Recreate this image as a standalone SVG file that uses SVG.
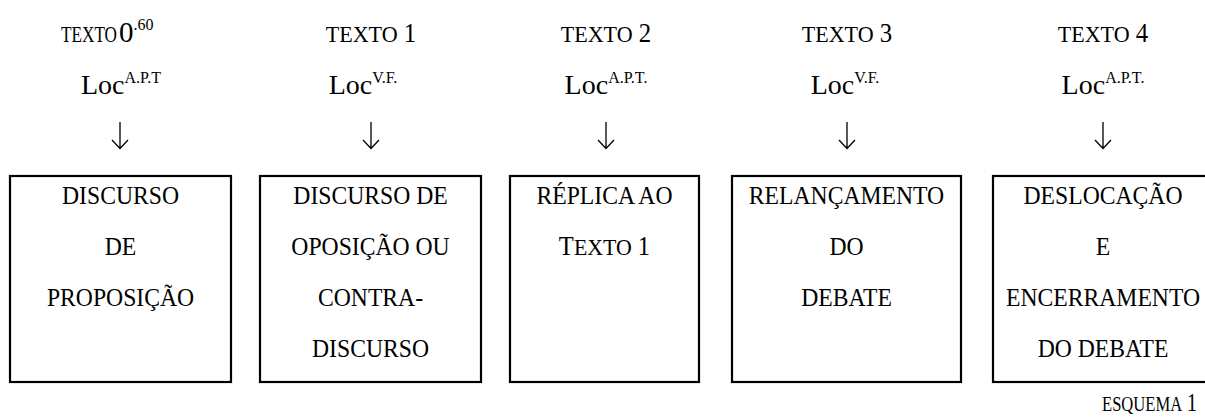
<svg xmlns="http://www.w3.org/2000/svg" width="1205" height="417" viewBox="0 0 1205 417">
<style>
text{font-family:"Liberation Serif","Times New Roman",serif;fill:#000;text-anchor:middle}
.st{text-anchor:start}
.sc{font-size:24px}
.big{font-size:27px}
.loc{font-size:28px}
.sup{font-size:16px}
.bt{font-size:26px}
.box{fill:#fff;stroke:#000;stroke-width:2.2}
.arr{fill:none;stroke:#000;stroke-width:1.3}
</style>
<rect width="1205" height="417" fill="#fff"/>
<g id="connectors">
<path class="arr" d="M120,122V148.5M112,140L120,148.5L128,140"/>
<path class="arr" d="M371,122V148.5M363,140L371,148.5L379,140"/>
<path class="arr" d="M606,122V148.5M598,140L606,148.5L614,140"/>
<path class="arr" d="M847,122V148.5M839,140L847,148.5L855,140"/>
<path class="arr" d="M1103,122V148.5M1095,140L1103,148.5L1111,140"/>
</g>
<g id="texto0">
<text class="st" x="61" y="42"><tspan class="sc" textLength="56" lengthAdjust="spacingAndGlyphs">TEXTO</tspan><tspan class="big" x="119" style="font-size:29px">0</tspan><tspan class="sup" dy="-12">.60</tspan></text>
<text x="121" y="94"><tspan class="loc">Loc</tspan><tspan class="sup" dy="-11">A.P.T</tspan></text>
<rect class="box" x="10" y="176" width="221" height="206"/>
<text class="bt" transform="translate(120.5,204) scale(0.91,1)">DISCURSO</text>
<text class="bt" transform="translate(120.5,255) scale(0.91,1)">DE</text>
<text class="bt" transform="translate(120.5,306) scale(0.91,1)">PROPOSIÇÃO</text>
</g>
<g id="texto1">
<text transform="translate(371,42) scale(0.92,1)"><tspan class="sc">TEXTO</tspan><tspan class="big"> 1</tspan></text>
<text x="363" y="94"><tspan class="loc">Loc</tspan><tspan class="sup" dy="-11">V.F.</tspan></text>
<rect class="box" x="260" y="176" width="221" height="206"/>
<text class="bt" transform="translate(370.5,204) scale(0.91,1)">DISCURSO DE</text>
<text class="bt" transform="translate(370.5,255) scale(0.91,1)">OPOSIÇÃO OU</text>
<text class="bt" transform="translate(370.5,306) scale(0.91,1)">CONTRA-</text>
<text class="bt" transform="translate(370.5,357) scale(0.91,1)">DISCURSO</text>
</g>
<g id="texto2">
<text transform="translate(606,42) scale(0.92,1)"><tspan class="sc">TEXTO</tspan><tspan class="big"> 2</tspan></text>
<text x="606" y="94"><tspan class="loc">Loc</tspan><tspan class="sup" dy="-11">A.P.T.</tspan></text>
<rect class="box" x="510" y="176" width="189" height="206"/>
<text class="bt" transform="translate(604.5,204) scale(0.91,1)">RÉPLICA AO</text>
<text transform="translate(604.5,255) scale(0.91,1)"><tspan class="big">T</tspan><tspan class="sc">EXTO</tspan><tspan class="big"> 1</tspan></text>
</g>
<g id="texto3">
<text transform="translate(847,42) scale(0.92,1)"><tspan class="sc">TEXTO</tspan><tspan class="big"> 3</tspan></text>
<text x="845" y="94"><tspan class="loc">Loc</tspan><tspan class="sup" dy="-11">V.F.</tspan></text>
<rect class="box" x="732" y="176" width="229" height="206"/>
<text class="bt" transform="translate(846.5,204) scale(0.91,1)">RELANÇAMENTO</text>
<text class="bt" transform="translate(846.5,255) scale(0.91,1)">DO</text>
<text class="bt" transform="translate(846.5,306) scale(0.91,1)">DEBATE</text>
</g>
<g id="texto4">
<text transform="translate(1103,42) scale(0.92,1)"><tspan class="sc">TEXTO</tspan><tspan class="big"> 4</tspan></text>
<text x="1103" y="94"><tspan class="loc">Loc</tspan><tspan class="sup" dy="-11">A.P.T.</tspan></text>
<rect class="box" x="993" y="176" width="222" height="206"/>
<text class="bt" transform="translate(1103,204) scale(0.91,1)">DESLOCAÇÃO</text>
<text class="bt" transform="translate(1103,255) scale(0.91,1)">E</text>
<text class="bt" transform="translate(1103,306) scale(0.91,1)">ENCERRAMENTO</text>
<text class="bt" transform="translate(1103,357) scale(0.91,1)">DO DEBATE</text>
</g>
<g id="caption">
<text class="st" x="1102" y="411" textLength="95" lengthAdjust="spacingAndGlyphs"><tspan style="font-size:21px">ESQUEMA</tspan><tspan style="font-size:25px"> 1</tspan></text>
</g>
</svg>
